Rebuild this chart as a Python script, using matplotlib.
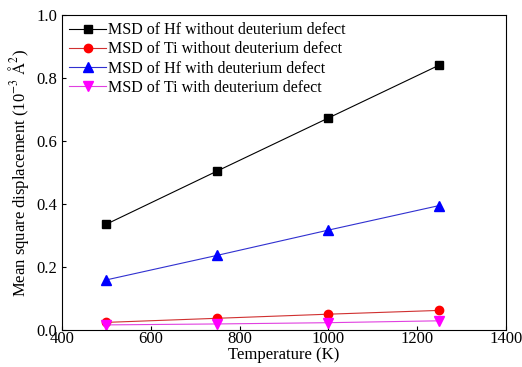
import matplotlib
matplotlib.use('Agg')
import matplotlib.pyplot as plt

plt.rcParams['font.family'] = ['Liberation Serif', 'DejaVu Serif']
plt.rcParams['mathtext.fontset'] = 'stix'

temperature = [500, 750, 1000, 1250]
hf_without = [0.336, 0.505, 0.673, 0.841]
ti_without = [0.024, 0.037, 0.050, 0.062]
hf_with = [0.159, 0.237, 0.317, 0.395]
ti_with = [0.016, 0.019, 0.023, 0.029]

labels = ["MSD of Hf without deuterium defect",
          "MSD of Ti without deuterium defect",
          "MSD of Hf with deuterium defect",
          "MSD of Ti with deuterium defect"]

fig = plt.figure(figsize=(5.22, 3.67), dpi=100)
ax = fig.add_axes([0.119, 0.101, 0.850, 0.858])

ax.plot(temperature, hf_without, color='black', marker='s', markersize=6, lw=0.8, label=labels[0])
ax.plot(temperature, ti_without, color='#d03030', marker='o', markersize=6,
        markerfacecolor='red', markeredgecolor='red', lw=0.8, label=labels[1])
ax.plot(temperature, hf_with, color='#3030d0', marker='^', markersize=7,
        markerfacecolor='blue', markeredgecolor='blue', lw=0.8, label=labels[2])
ax.plot(temperature, ti_with, color='#e040e0', marker='v', markersize=7,
        markerfacecolor='magenta', markeredgecolor='magenta', lw=0.8, label=labels[3])

ax.set_xlim(400, 1400)
ax.set_ylim(0, 1.0)
ax.set_xticks([400, 600, 800, 1000, 1200, 1400])
ax.set_yticks([0.0, 0.2, 0.4, 0.6, 0.8, 1.0])
ax.set_yticklabels(['0.0', '0.2', '0.4', '0.6', '0.8', '1.0'])
ax.tick_params(direction='in', labelsize=12, length=3)
ax.tick_params(axis='x', pad=1)
ax.set_xlabel("Temperature (K)", fontsize=12, labelpad=0)
ax.set_ylabel(r"Mean square displacement (10$^{-3}$ $\mathrm{\AA}^{2}$)", fontsize=12, labelpad=4)

ax.legend(loc='upper left', bbox_to_anchor=(0.0, 1.0), frameon=False, fontsize=11.5,
          handlelength=2.3, handletextpad=0.15, labelspacing=0.2, borderaxespad=0.05)

fig.savefig('out.png', dpi=100)
